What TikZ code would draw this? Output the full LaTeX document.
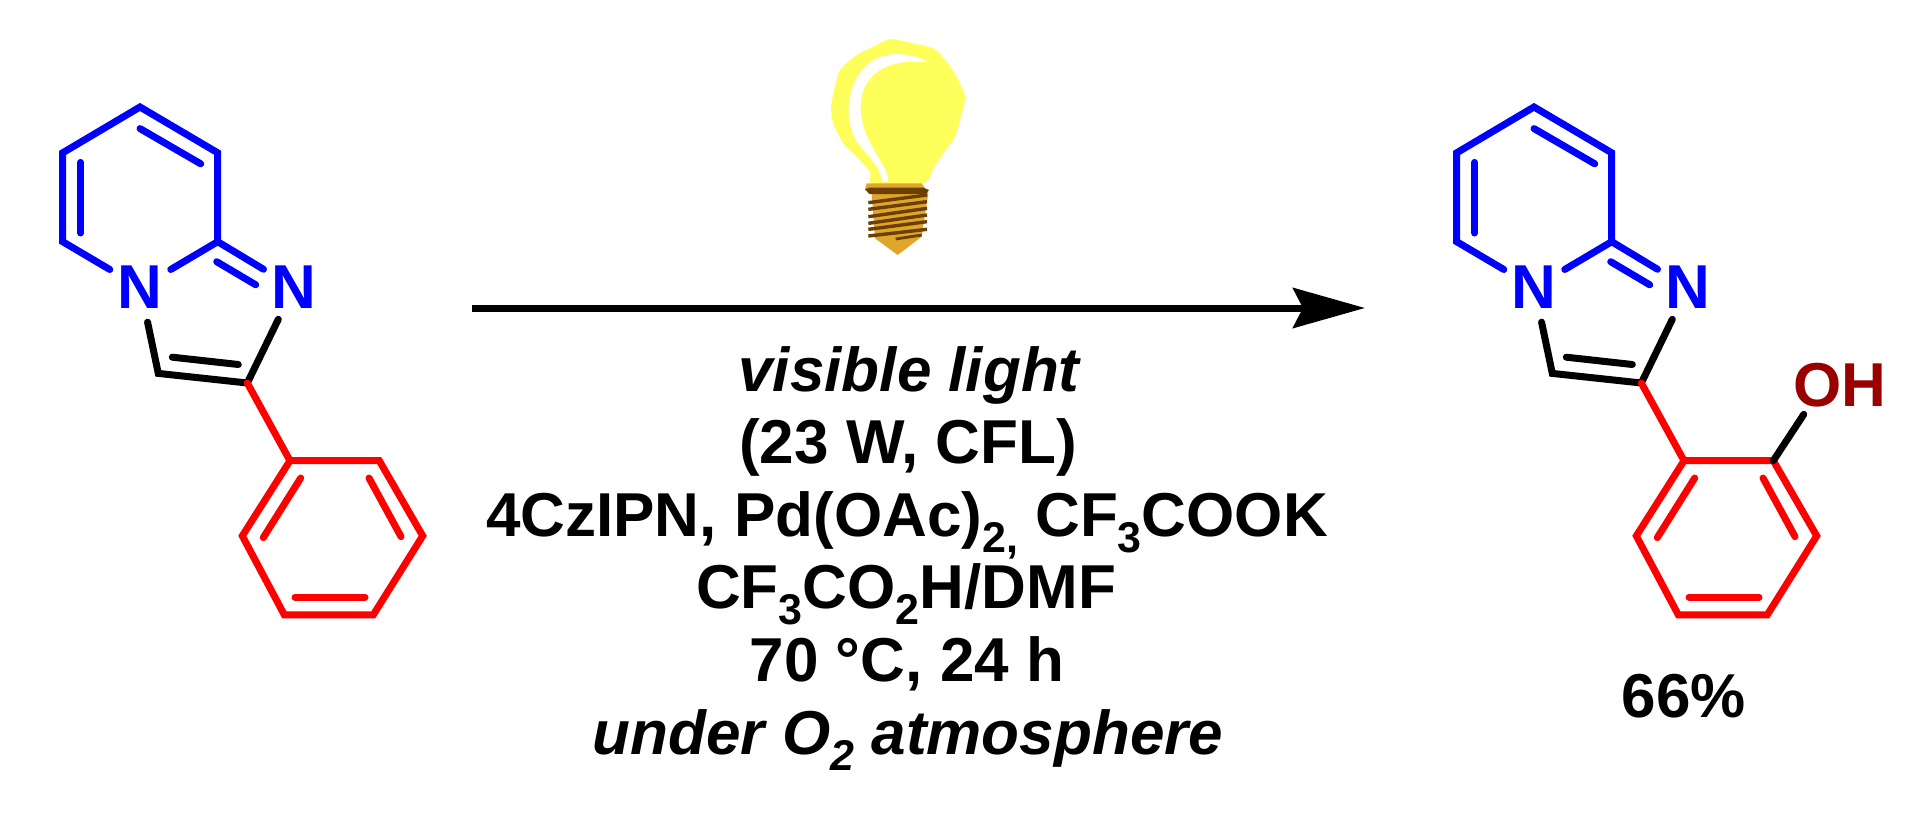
\documentclass[tikz,border=0pt]{standalone}
\usepackage{fontspec}
\setmainfont{Liberation Sans}
\usetikzlibrary{arrows.meta}
\definecolor{bulbyellow}{HTML}{FFFF5C}
\definecolor{bulbgold}{HTML}{E0A52B}
\definecolor{bulbbrown}{HTML}{6B3F00}
\definecolor{ohred}{HTML}{990000}
\newcommand{\chemsub}[1]{\raisebox{-8pt}{\fontsize{21.5}{21.5}\selectfont #1}}
\tikzset{
    bond/.style={line width=3.5pt,line cap=round,line join=miter},
    atom/.style={circle,inner sep=0pt,minimum size=35pt,font=\fontsize{31}{36}\selectfont\bfseries,blue},
    condition/.style={anchor=base,inner sep=0pt,font=\fontsize{31}{36}\selectfont\bfseries},
}
\begin{document}
\begin{tikzpicture}[x=0.5pt,y=-0.5pt]
    \useasboundingbox (0,0) rectangle (1932,824);

    % lamp
    \begin{scope}[shift={(800,20)},x=0.16667pt,y=-0.16667pt]
        \fill[bulbyellow] plot [smooth cycle,tension=0.4]
        coordinates {(270,57) (330,68) (400,85) (440,125) (470,170) (495,232) (480,300) (465,350) (430,400) (400,445) (370,490) (215,490) (212,460) (180,420) (130,370) (100,310) (93,260) (105,200) (120,150) (170,105) (230,75)};
        \fill[white] (385,127) .. controls (330,95) and (250,90) .. (200,135) .. controls (150,180) and (130,270) .. (160,345) .. controls (185,400) and (245,430) .. (245,487) -- (265,485) .. controls (265,430) and (182,370) .. (182,260) .. controls (182,190) and (230,110) .. (385,127) -- cycle;
        \fill[bulbgold] (200,490) -- (365,490) -- (385,520) -- (365,650) -- (293,705) -- (225,655) -- (215,520) -- (195,508) -- cycle;
        \fill[bulbbrown] (195,508) -- (208,503) -- (370,503) -- (387,510) -- (378,522) -- (208,522) -- cycle;
        \foreach \ya/\yb in {548/525,568/545,590/565,610/585,628/605,648/628}
            \draw[bulbbrown,line width=1.7pt] (205,\ya) -- (381,\yb);
        \draw[bulbbrown,line width=1.4pt] (287,657) -- (365,645);
    \end{scope}

    % reactant and product
    \foreach \m/\dx in {sm/0,pr/1394} {
    \begin{scope}[shift={(\dx,0)}]
        \coordinate (\m-a) at (140,107);
        \coordinate (\m-b) at (217.7,152.8);
        \coordinate (\m-c) at (217.7,241.7);
        \coordinate (\m-d) at (62.7,152.8);
        \coordinate (\m-e) at (62.7,241.7);
        \coordinate (\m-f) at (158.3,373.4);
        \coordinate (\m-g) at (247.3,383);
        \coordinate (\m-p1) at (290,460.7);
        \coordinate (\m-p2) at (379.3,460.7);
        \coordinate (\m-p3) at (422.7,535.9);
        \coordinate (\m-p4) at (373.3,614.8);
        \coordinate (\m-p5) at (284.3,614.8);
        \coordinate (\m-p6) at (242.3,535.9);
        \node[atom] (\m-n1) at (140.3,287.5) {N};
        \node[atom] (\m-n2) at (293.8,287.5) {N};

        \draw[bond,blue] (\m-n1) -- (\m-e) -- (\m-d) -- (\m-a) -- (\m-b) -- (\m-c) -- (\m-n2);
        \draw[bond,blue] (\m-n1) -- (\m-c);
        \draw[bond,blue] (80.7,162.4) -- (80.7,233);
        \draw[bond,blue] (140,128.6) -- (200.7,163.8);
        \draw[bond,blue] (216.7,261.7) -- (255.7,284.8);
        \draw[bond] (\m-n1) -- (\m-f) -- (\m-g) -- (\m-n2);
        \draw[bond] (172.3,357.2) -- (238.3,364.5);
        \draw[bond,red] (\m-g) -- (\m-p1);
        \draw[bond,red] (\m-p1) -- (\m-p2) -- (\m-p3) -- (\m-p4) -- (\m-p5) -- (\m-p6) -- cycle;
        \draw[bond,red] (300.7,478) -- (263.3,537.6);
        \draw[bond,red] (369,478) -- (401,536.6);
        \draw[bond,red] (295,597) -- (365,597);
    \end{scope}
    }

    \node[inner sep=3.5pt,font=\fontsize{31}{36}\selectfont\bfseries,ohred] (oh) at (1840,385) {OH};
    \draw[bond] (pr-p2) -- (oh.219);
    \node[condition] (yield) at (1684,717) {66\%};

    % reaction arrow
    \coordinate (arrowstart) at (472,308);
    \coordinate (arrowend) at (1365,308);
    \draw[line width=3.5pt,-{Stealth[length=36pt,width=20pt,inset=5pt]}] (arrowstart) -- (arrowend);

    \node[condition] (light) at (909,391) {\itshape visible light};
    \node[condition] (lamp) at (908,463) {(23 W, CFL)};
    \node[condition] (cat) at (907,536) {4CzIPN, Pd(OAc)\chemsub{2,} CF\chemsub{3}COOK};
    \node[condition] (solvent) at (906,608) {CF\chemsub{3}CO\chemsub{2}H/DMF};
    \node[condition] (temp) at (907,681) {70 °C, 24 h};
    \node[condition] (atm) at (908,754) {\itshape under O\chemsub{2} atmosphere};
\end{tikzpicture}
\end{document}
